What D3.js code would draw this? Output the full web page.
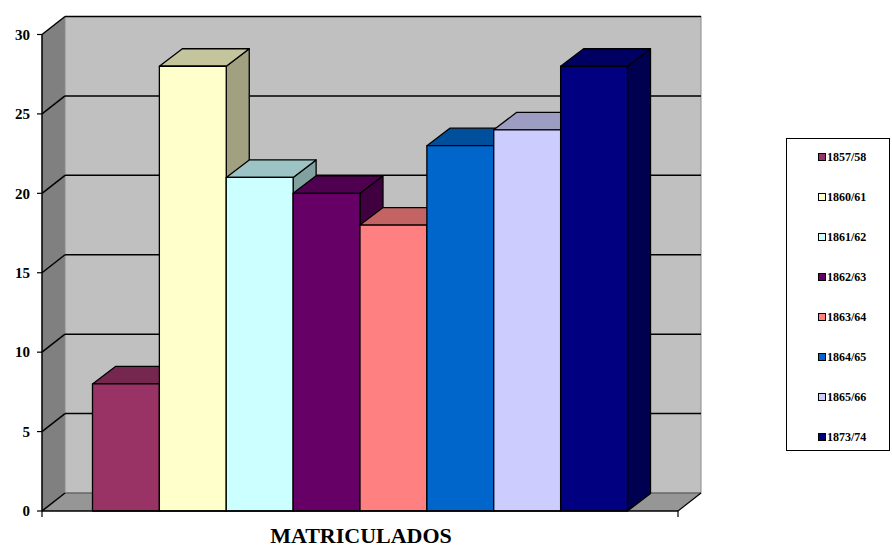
<!DOCTYPE html>
<html><head><meta charset="utf-8">
<script src="https://cdn.jsdelivr.net/npm/d3@7"></script>
<style>body{margin:0;background:#fff}svg{display:block}</style>
</head><body><svg id="c" width="892" height="547"></svg>
<script>
const categories = ["1857/58","1860/61","1861/62","1862/63","1863/64","1864/65","1865/66","1873/74"];
const values = [8, 28, 21, 20, 18, 23, 24, 28];
const colors = ["#993366","#FFFFCC","#CCFFFF","#660066","#FF8080","#0066CC","#CCCCFF","#000080"];
const yTicks = [0,5,10,15,20,25,30];
const axisTitle = "MATRICULADOS";

const svg = d3.select("#c");
const font = "'Liberation Serif', 'Times New Roman', serif";
const x0 = 42, x1 = 678, dx = 23, dy = -18;
const y = d3.scaleLinear().domain([0,30]).range([511, 34.5]);
const x = d3.scaleBand().domain(categories).range([x0, x1]).paddingInner(0).paddingOuter(0.755);
const shade = (c,k)=>{const r=d3.rgb(c);return d3.rgb(r.r*k,r.g*k,r.b*k).formatHex();};

// walls
const yTop = y(30), yBot = y(0);
svg.append("polygon").attr("points",[[x0,yTop],[x0+dx,yTop+dy],[x0+dx,yBot+dy],[x0,yBot]].join(" ")).attr("fill","#808080");
svg.append("polygon").attr("points",[[x0,yBot],[x0+dx,yBot+dy],[x1+dx,yBot+dy],[x1,yBot]].join(" ")).attr("fill","#969696");
svg.append("rect").attr("x",x0+dx).attr("y",yTop+dy).attr("width",x1-x0).attr("height",yBot-yTop)
  .attr("fill","#C0C0C0").attr("stroke","#8a8a8a").attr("stroke-width",1);
svg.append("line").attr("x1",x0+dx).attr("x2",x1+dx).attr("y1",yBot+dy).attr("y2",yBot+dy).attr("stroke","#555").attr("stroke-width",1);

// gridlines
yTicks.forEach(v=>{
  const yf=y(v);
  svg.append("line").attr("x1",x0).attr("y1",yf).attr("x2",x0+dx).attr("y2",yf+dy).attr("stroke","#000").attr("stroke-width",1.5);
  if(v>0) svg.append("line").attr("x1",x0+dx).attr("y1",yf+dy).attr("x2",x1+dx).attr("y2",yf+dy).attr("stroke","#000").attr("stroke-width",1.5);
});
svg.append("line").attr("x1",x1).attr("y1",yBot).attr("x2",x1+dx).attr("y2",yBot+dy).attr("stroke","#000").attr("stroke-width",1.2);

// bars
const bdy = -17.5;
categories.forEach((c,i)=>{
  const l = x(c), r = l + x.bandwidth(), t = y(values[i]), b = y(0);
  const g = svg.append("g").attr("stroke","#000").attr("stroke-width",1.3).attr("stroke-linejoin","round");
  g.append("polygon").attr("points",[[r,t],[r+dx,t+bdy],[r+dx,b+bdy],[r,b]].join(" ")).attr("fill",shade(colors[i],0.63));
  g.append("polygon").attr("points",[[l,t],[l+dx,t+bdy],[r+dx,t+bdy],[r,t]].join(" ")).attr("fill",shade(colors[i],0.77));
  g.append("rect").attr("x",l).attr("y",t).attr("width",r-l).attr("height",b-t).attr("fill",colors[i]);
});

// axes
svg.append("line").attr("x1",x0).attr("y1",yTop).attr("x2",x0).attr("y2",yBot).attr("stroke","#000").attr("stroke-width",1.5);
svg.append("line").attr("x1",x0).attr("y1",yBot).attr("x2",x1).attr("y2",yBot).attr("stroke","#000").attr("stroke-width",1.5);
[x0,x1].forEach(xx=>svg.append("line").attr("x1",xx).attr("x2",xx).attr("y1",yBot).attr("y2",yBot+6).attr("stroke","#000").attr("stroke-width",1.2));
yTicks.forEach(v=>{
  svg.append("line").attr("x1",x0-5).attr("x2",x0).attr("y1",y(v)).attr("y2",y(v)).attr("stroke","#000").attr("stroke-width",1.2);
  svg.append("text").attr("x",30).attr("y",y(v)).attr("dy","0.35em").attr("text-anchor","end")
    .attr("font-family",font).attr("font-weight","bold").attr("font-size",15).text(v);
});
svg.append("text").attr("x",(x0+x1)/2+1).attr("y",543).attr("text-anchor","middle")
  .attr("font-family",font).attr("font-weight","bold").attr("font-size",22).text(axisTitle);

// legend
svg.append("rect").attr("x",786.5).attr("y",138.5).attr("width",103).attr("height",312).attr("fill","#fff").attr("stroke","#000").attr("stroke-width",1);
const ly = d3.scalePoint().domain(categories).range([157,437]);
categories.forEach((c,i)=>{
  svg.append("rect").attr("x",818.5).attr("y",ly(c)-3.5).attr("width",7).attr("height",7).attr("fill",colors[i]).attr("stroke","#000").attr("stroke-width",1);
  svg.append("text").attr("x",827).attr("y",ly(c)).attr("dy","0.35em").attr("font-family",font).attr("font-weight","bold").attr("font-size",12).text(c);
});
</script></body></html>
